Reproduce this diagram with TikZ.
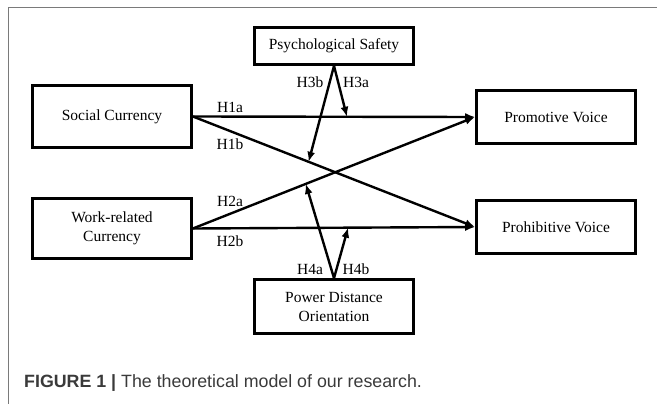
\documentclass[tikz,border=0pt]{standalone}
\usepackage{fontspec}
\setmainfont{Liberation Serif}
\newfontfamily\capfont{Liberation Sans}
\usetikzlibrary{arrows.meta,calc}
\definecolor{framegray}{HTML}{7A7A7A}
\definecolor{captiongray}{HTML}{3A3A3A}

\begin{document}
\begin{tikzpicture}[x=1pt,y=-1pt,>={Latex[length=10pt,width=8pt]},
  box/.style={draw,line width=2.8pt,minimum width=159pt,align=center,inner sep=2pt,
    font=\fontsize{15.5}{19}\selectfont},
  link/.style={->,line width=2.4pt},
  hyp/.style={inner sep=1pt,font=\fontsize{15.5}{19}\selectfont}]
  \useasboundingbox (0,0) rectangle (657,404);
  \draw[framegray,line width=1pt] (8,404) -- (8,8) -- (657,8);
  \node[box,minimum height=37pt] (ps) at (334,46) {Psychological Safety};
  \node[box,minimum height=62pt] (sc) at (112,116.5) {Social Currency};
  \node[box,minimum height=60pt] (wc) at (112,228.5) {Work-related\\Currency};
  \node[box,minimum height=53pt] (pv) at (556,117) {Promotive Voice};
  \node[box,minimum height=53pt] (hv) at (556,227) {Prohibitive Voice};
  \node[box,minimum height=54pt] (pd) at (334,306.5) {Power Distance\\Orientation};
  \draw[link] (sc.east) -- (pv.west);
  \draw[link] (sc.east) -- (hv.west);
  \draw[link] (wc.east) -- (pv.west);
  \draw[link] (wc.east) -- (hv.west);
  \coordinate (h3aend) at ($(sc.east)!0.546!(pv.west)$);
  \coordinate (h3bend) at ($(sc.east)!0.41!(hv.west)$);
  \coordinate (h4aend) at ($(wc.east)!0.40!(pv.west)$);
  \coordinate (h4bend) at ($(wc.east)!0.55!(hv.west)$);
  \draw[link] (ps.south) -- (h3aend);
  \draw[link] (ps.south) -- (h3bend);
  \draw[link] (pd.north) -- (h4aend);
  \draw[link] (pd.north) -- (h4bend);
  \node[hyp] (h1a) at (230,107) {H1a};
  \node[hyp] (h1b) at (230,144) {H1b};
  \node[hyp] (h2a) at (230,201) {H2a};
  \node[hyp] (h2b) at (230,241) {H2b};
  \node[hyp] (h3b) at (310,82) {H3b};
  \node[hyp] (h3a) at (356,82) {H3a};
  \node[hyp] (h4a) at (310,269) {H4a};
  \node[hyp] (h4b) at (356,269) {H4b};
  \node[anchor=west,inner sep=0pt,text=captiongray,font=\capfont\fontsize{17.8}{20}\selectfont]
    (cap) at (24,383) {\textbf{FIGURE 1 |} The theoretical model of our research.};
\end{tikzpicture}
\end{document}
